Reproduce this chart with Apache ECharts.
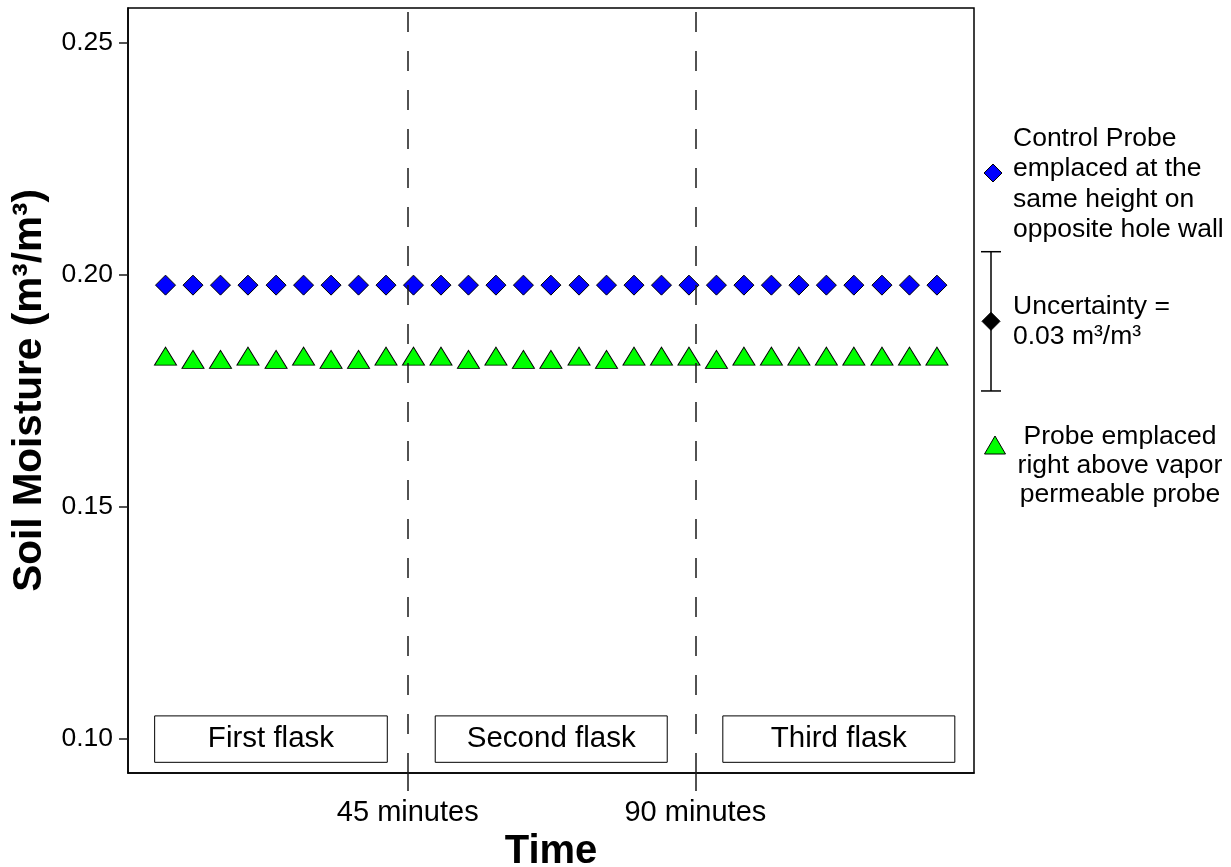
<!DOCTYPE html>
<html>
<head>
<meta charset="utf-8">
<script src="https://cdn.jsdelivr.net/npm/echarts@6/dist/echarts.min.js"></script>
<style>
  html, body { margin: 0; padding: 0; background: #ffffff; }
  #chart { width: 1231px; height: 867px; }
</style>
</head>
<body>
<div id="chart"></div>
<script>
// Sampling times of the soil moisture readings (minutes since start)
const times = [7.1, 11.4, 15.7, 20.0, 24.4, 28.7, 33.0, 37.3, 41.6, 45.9,
               50.2, 54.5, 58.8, 63.1, 67.4, 71.8, 76.1, 80.4, 84.7, 89.0,
               93.3, 97.6, 101.9, 106.2, 110.5, 114.8, 119.2, 123.5, 127.8];

// Control probe on the opposite hole wall (m3/m3)
const controlProbe = [0.1978, 0.1978, 0.1978, 0.1978, 0.1978, 0.1978, 0.1978, 0.1978, 0.1978, 0.1978,
                      0.1978, 0.1978, 0.1978, 0.1978, 0.1978, 0.1978, 0.1978, 0.1978, 0.1978, 0.1978,
                      0.1978, 0.1978, 0.1978, 0.1978, 0.1978, 0.1978, 0.1978, 0.1978, 0.1978];

// Probe right above the vapor permeable probe (m3/m3)
const aboveProbe = [0.1825, 0.1818, 0.1818, 0.1825, 0.1818, 0.1825, 0.1818, 0.1818, 0.1825, 0.1825,
                    0.1825, 0.1818, 0.1825, 0.1818, 0.1818, 0.1825, 0.1818, 0.1825, 0.1825, 0.1825,
                    0.1818, 0.1825, 0.1825, 0.1825, 0.1825, 0.1825, 0.1825, 0.1825, 0.1825];

// Flask changes (minutes) and y tick values
const flaskChanges = [45, 90];
const yTicks = [0.10, 0.15, 0.20, 0.25];

// Flask periods, labelled boxes drawn around y = 0.10
const flaskNames = ['First flask', 'Second flask', 'Third flask'];
const flaskStart = [5.4, 49.3, 94.3];
const flaskEnd = [41.8, 85.6, 130.6];
const flaskBoxLow = 0.095;
const flaskBoxHigh = 0.105;

// Measurement uncertainty shown in the key (m3/m3)
const uncertainty = 0.03;
const uncertaintyCenter = 0.19;

const FONT = '"Liberation Sans", Arial, Helvetica, sans-serif';

const chart = echarts.init(document.getElementById('chart'), null, { renderer: 'canvas' });

const pair = (xs, ys) => xs.map((x, i) => [x, ys[i]]);

const option = {
  animation: false,
  backgroundColor: '#ffffff',
  textStyle: { fontFamily: FONT },
  grid: {
    left: 128, top: 8, width: 846, height: 765,
    outerBoundsMode: 'none',
    containLabel: false,
    show: true, borderColor: '#000000', borderWidth: 1.5, backgroundColor: 'transparent'
  },
  xAxis: {
    type: 'value',
    min: 1.23, max: 133.6,
    name: 'Time',
    nameLocation: 'middle',
    nameGap: 51,
    nameTextStyle: { fontFamily: FONT, fontSize: 40, fontWeight: 'bold', color: '#000' },
    splitLine: { show: false },
    axisLine: { show: true, lineStyle: { color: '#000', width: 1.5 } },
    axisTick: { show: true, length: 18, customValues: flaskChanges, lineStyle: { color: '#1a1a1a', width: 1.5 } },
    axisLabel: {
      customValues: flaskChanges,
      formatter: v => v + ' minutes',
      fontFamily: FONT, fontSize: 29, color: '#000', margin: 25
    }
  },
  yAxis: {
    type: 'value',
    min: 0.0927, max: 0.2575,
    name: 'Soil Moisture (m³/m³)',
    nameLocation: 'middle',
    nameGap: 72,
    nameTextStyle: { fontFamily: FONT, fontSize: 40.5, fontWeight: 'bold', color: '#000' },
    splitLine: { show: false },
    axisLine: { show: true, lineStyle: { color: '#000', width: 1.5 } },
    axisTick: { show: true, length: 9, customValues: yTicks, lineStyle: { color: '#1a1a1a', width: 1.5 } },
    axisLabel: {
      customValues: yTicks,
      formatter: v => v.toFixed(2),
      fontFamily: FONT, fontSize: 26.5, color: '#000', margin: 15
    }
  },
  series: [
    {
      name: 'Flask periods',
      type: 'line',
      data: [],
      silent: true,
      z: 1,
      markArea: {
        silent: true,
        itemStyle: { color: '#ffffff', borderColor: '#000000', borderWidth: 1 },
        label: { show: true, position: 'inside', fontFamily: FONT, fontSize: 29.5, color: '#000' },
        data: flaskNames.map((n, i) => [
          { name: n, xAxis: flaskStart[i], yAxis: flaskBoxLow },
          { xAxis: flaskEnd[i], yAxis: flaskBoxHigh }
        ])
      }
    },
    {
      name: 'Control Probe',
      type: 'scatter',
      symbol: 'diamond',
      symbolSize: [20, 20],
      itemStyle: { color: '#0000ff', borderColor: '#000', borderWidth: 1, opacity: 1 },
      data: pair(times, controlProbe),
      z: 3
    },
    {
      name: 'Probe emplaced right above vapor permeable probe',
      type: 'scatter',
      symbol: 'triangle',
      symbolSize: [22, 18],
      itemStyle: { color: '#00ff00', borderColor: '#000', borderWidth: 1, opacity: 1 },
      data: pair(times, aboveProbe),
      z: 3
    },
    {
      name: 'Flask changes',
      type: 'line',
      data: [],
      silent: true,
      z: 10,
      markLine: {
        silent: true,
        symbol: ['none', 'none'],
        label: { show: false },
        lineStyle: { color: '#1a1a1a', width: 1.5, type: [20, 19] },
        data: flaskChanges.map(v => ({ xAxis: v }))
      }
    }
  ]
};

chart.setOption(option);

// Key on the right of the plot; the uncertainty bar uses the y scale
const yTop = chart.convertToPixel({ yAxisIndex: 0 }, uncertaintyCenter + uncertainty / 2);
const yBot = chart.convertToPixel({ yAxisIndex: 0 }, uncertaintyCenter - uncertainty / 2);
const yMid = chart.convertToPixel({ yAxisIndex: 0 }, uncertaintyCenter);

function diamondPts(cx, cy, r) {
  return [[cx, cy - r], [cx + r, cy], [cx, cy + r], [cx - r, cy]];
}

const keyText = { fontFamily: FONT, fontSize: 26.5, fill: '#000', lineHeight: 30.5 };
const barX = 991;

chart.setOption({
  graphic: [
    { type: 'polygon', shape: { points: diamondPts(993, 173, 9) },
      style: { fill: '#0000ff', stroke: '#000', lineWidth: 1 } },
    { type: 'text', left: 1013, top: 123,
      style: Object.assign({ text: 'Control Probe\nemplaced at the\nsame height on\nopposite hole wall' }, keyText) },

    { type: 'line', shape: { x1: barX, y1: yTop, x2: barX, y2: yBot }, style: { stroke: '#000', lineWidth: 1.5 } },
    { type: 'line', shape: { x1: barX - 10, y1: yTop, x2: barX + 10, y2: yTop }, style: { stroke: '#000', lineWidth: 1.5 } },
    { type: 'line', shape: { x1: barX - 10, y1: yBot, x2: barX + 10, y2: yBot }, style: { stroke: '#000', lineWidth: 1.5 } },
    { type: 'polygon', shape: { points: diamondPts(barX, yMid, 9) }, style: { fill: '#000', stroke: '#000', lineWidth: 1 } },
    { type: 'text', left: 1013, top: 291,
      style: Object.assign({ text: 'Uncertainty =\n0.03 m³/m³' }, keyText) },

    { type: 'polygon', shape: { points: [[995, 436], [1005.5, 454], [984.5, 454]] },
      style: { fill: '#00ff00', stroke: '#000', lineWidth: 1 } },
    { type: 'text', x: 1120, y: 422,
      style: Object.assign({ text: 'Probe emplaced\nright above vapor\npermeable probe', align: 'center', verticalAlign: 'top' }, keyText, { lineHeight: 29 }) }
  ]
});
</script>
</body>
</html>
